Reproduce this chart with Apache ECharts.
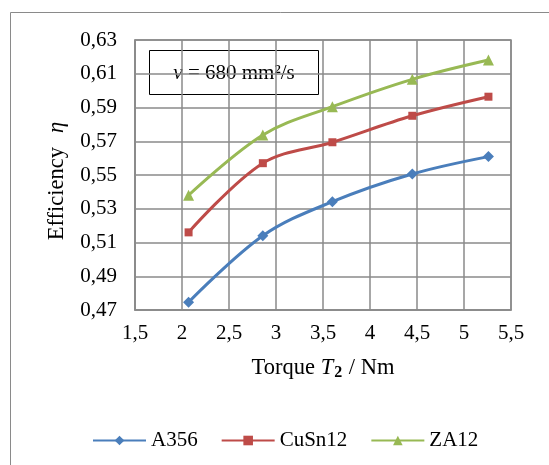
<!DOCTYPE html>
<html>
<head>
<meta charset="utf-8">
<script src="https://cdn.jsdelivr.net/npm/echarts@6/dist/echarts.min.js"></script>
<style>
html,body{margin:0;padding:0;background:#fff;}
#c{width:549px;height:465px;}
</style>
</head>
<body>
<div id="c"></div>
<script>
const torque = [2.07, 2.86, 3.60, 4.45, 5.26];
const a356   = [0.4746, 0.514, 0.5342, 0.5506, 0.5609];
const cusn12 = [0.516, 0.557, 0.5694, 0.5851, 0.5964];
const za12   = [0.538, 0.5737, 0.5905, 0.6067, 0.6181];
const seriesNames = ['A356', 'CuSn12', 'ZA12'];
const colors = ['#4A7EBB', '#BE4B48', '#98B954'];
const symbols = ['diamond', 'rect', 'triangle'];
const symbolSizes = [11, 8, 11];

const FONT = '"Liberation Serif", "Times New Roman", serif';
const gridColor = '#8a8a8a';

function pairs(ys){ return torque.map((x,i)=>[x, ys[i]]); }

const chart = echarts.init(document.getElementById('c'), null, {renderer:'canvas'});
const data = [a356, cusn12, za12];

chart.setOption({
  backgroundColor: '#fff',
  animation: false,
  textStyle: {fontFamily: FONT, color: '#000'},
  grid: {left: 135, right: 38, top: 40, bottom: 155, show: true, borderColor: gridColor, borderWidth: 1.5},
  xAxis: {
    type: 'value', min: 1.5, max: 5.5, interval: 0.5,
    axisLine: {show: true, lineStyle: {color: gridColor, width: 1.5}},
    axisTick: {show: false},
    splitLine: {show: true, lineStyle: {color: gridColor, width: 1.5}},
    axisLabel: {fontFamily: FONT, fontSize: 21, color: '#000', margin: 13,
      formatter: v => String(v).replace('.', ',')},
    name: '{n|Torque }{i|T}{s|2}{n| / Nm}',
    nameLocation: 'middle', nameGap: 46,
    nameTextStyle: {rich: {
      n: {fontFamily: FONT, fontSize: 22.5, color: '#000'},
      i: {fontFamily: FONT, fontSize: 22.5, fontStyle: 'italic', color: '#000'},
      s: {fontFamily: FONT, fontSize: 16, fontWeight: 'bold', color: '#000', verticalAlign: 'bottom', padding: [9,1,0,1]}
    }}
  },
  yAxis: {
    type: 'value', min: 0.47, max: 0.63, interval: 0.02,
    axisLine: {show: true, lineStyle: {color: gridColor, width: 1.5}},
    axisTick: {show: false},
    splitLine: {show: true, lineStyle: {color: gridColor, width: 1.5}},
    axisLabel: {fontFamily: FONT, fontSize: 21, color: '#000', margin: 18,
      formatter: v => v.toFixed(2).replace('.', ',')},
    name: '{n|Efficiency}{g|}{i|η}{p|}',
    nameLocation: 'middle', nameGap: 66, nameRotate: 90,
    nameTextStyle: {rich: {
      n: {fontFamily: FONT, fontSize: 22.5, color: '#000'},
      g: {width: 14},
      p: {width: 12},
      i: {fontFamily: FONT, fontSize: 22.5, fontStyle: 'italic', color: '#000'}
    }}
  },
  legend: {
    data: seriesNames, left: 87, top: 425, itemWidth: 53, itemHeight: 12, itemGap: 23,
    textStyle: {fontFamily: FONT, fontSize: 21, color: '#000'}
  },
  graphic: [
    {type: 'rect', left: 8, top: 10, shape: {x: 0.5, y: 0.5, width: 600, height: 500},
     style: {fill: 'none', stroke: '#8a8a8a', lineWidth: 1}, silent: true},
    {type: 'group', left: 149, top: 50, children: [
      {type: 'rect', shape: {x: 0.5, y: 0.5, width: 169, height: 44},
       style: {fill: '#fff', stroke: '#000', lineWidth: 1}},
      {type: 'text', x: 85, y: 23,
       style: {text: '{i|ν}{n| = 680 mm²/s}', align: 'center', verticalAlign: 'middle',
         rich: {
           i: {fontFamily: FONT, fontSize: 21, fontStyle: 'italic', fill: '#000'},
           n: {fontFamily: FONT, fontSize: 21, fill: '#000'}
         }}}
    ]}
  ],
  series: data.map((d, i) => ({
    name: seriesNames[i], type: 'line', data: pairs(d), smooth: 0.35,
    symbol: symbols[i], symbolSize: symbolSizes[i], showSymbol: true,
    lineStyle: {color: colors[i], width: 3},
    itemStyle: {color: colors[i]},
    z: 3 + i
  }))
});
</script>
</body>
</html>
